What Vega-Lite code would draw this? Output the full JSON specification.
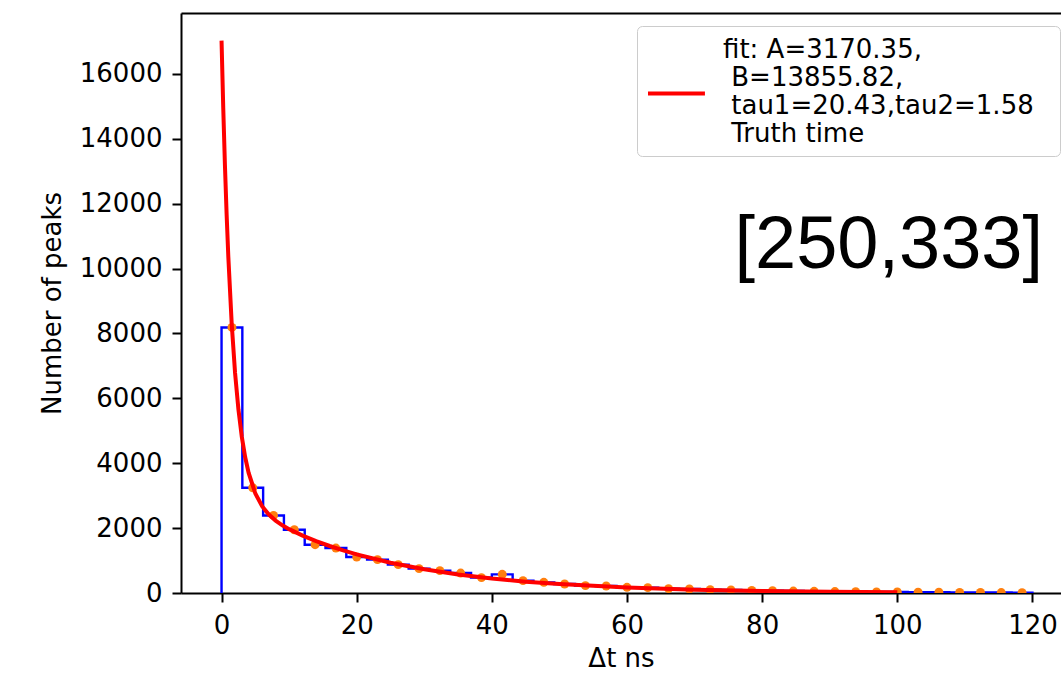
{
  "$schema": "https://vega.github.io/schema/vega-lite/v6.json",
  "width": 880,
  "height": 580,
  "autosize": "none",
  "padding": {"left": 181, "top": 13, "right": 0, "bottom": 82},
  "background": "white",
  "config": {
    "view": {"stroke": null},
    "font": "DejaVu Sans",
    "axis": {
      "labelFont": "DejaVu Sans",
      "labelFontSize": 26,
      "labelColor": "black",
      "tickColor": "black",
      "tickWidth": 2,
      "tickSize": 9,
      "domainColor": "black",
      "domainWidth": 2,
      "titleFont": "DejaVu Sans",
      "titleFontSize": 26,
      "titleFontWeight": "normal",
      "titleColor": "black",
      "grid": false,
      "labelPadding": 10
    }
  },
  "datasets": {
    "step": [
      {"t": 0, "n": 0},
      {"t": 0, "n": 8185},
      {"t": 3.077, "n": 3243},
      {"t": 6.154, "n": 2391},
      {"t": 9.231, "n": 1950},
      {"t": 12.308, "n": 1489},
      {"t": 15.385, "n": 1385},
      {"t": 18.462, "n": 1108},
      {"t": 21.538, "n": 1028},
      {"t": 24.615, "n": 874},
      {"t": 27.692, "n": 751},
      {"t": 30.769, "n": 689},
      {"t": 33.846, "n": 615},
      {"t": 36.923, "n": 474},
      {"t": 40.0, "n": 575},
      {"t": 43.077, "n": 381},
      {"t": 46.154, "n": 329},
      {"t": 49.231, "n": 277},
      {"t": 52.308, "n": 228},
      {"t": 55.385, "n": 215},
      {"t": 58.462, "n": 175},
      {"t": 61.538, "n": 166},
      {"t": 64.615, "n": 135},
      {"t": 67.692, "n": 123},
      {"t": 70.769, "n": 100},
      {"t": 73.846, "n": 95},
      {"t": 76.923, "n": 78},
      {"t": 80.0, "n": 70},
      {"t": 83.077, "n": 60},
      {"t": 86.154, "n": 52},
      {"t": 89.231, "n": 45},
      {"t": 92.308, "n": 42},
      {"t": 95.385, "n": 35},
      {"t": 98.462, "n": 30},
      {"t": 101.538, "n": 25},
      {"t": 104.615, "n": 22},
      {"t": 107.692, "n": 18},
      {"t": 110.769, "n": 16},
      {"t": 113.846, "n": 14},
      {"t": 116.923, "n": 12},
      {"t": 120, "n": 0}
    ],
    "dots": [
      {"t": 1.538, "n": 8185},
      {"t": 4.615, "n": 3243},
      {"t": 7.692, "n": 2391},
      {"t": 10.769, "n": 1950},
      {"t": 13.846, "n": 1489},
      {"t": 16.923, "n": 1385},
      {"t": 20.0, "n": 1108},
      {"t": 23.077, "n": 1028},
      {"t": 26.154, "n": 874},
      {"t": 29.231, "n": 751},
      {"t": 32.308, "n": 689},
      {"t": 35.385, "n": 615},
      {"t": 38.462, "n": 474},
      {"t": 41.538, "n": 575},
      {"t": 44.615, "n": 381},
      {"t": 47.692, "n": 329},
      {"t": 50.769, "n": 277},
      {"t": 53.846, "n": 228},
      {"t": 56.923, "n": 215},
      {"t": 60.0, "n": 175},
      {"t": 63.077, "n": 166},
      {"t": 66.154, "n": 135},
      {"t": 69.231, "n": 123},
      {"t": 72.308, "n": 100},
      {"t": 75.385, "n": 95},
      {"t": 78.462, "n": 78},
      {"t": 81.538, "n": 70},
      {"t": 84.615, "n": 60},
      {"t": 87.692, "n": 52},
      {"t": 90.769, "n": 45},
      {"t": 93.846, "n": 42},
      {"t": 96.923, "n": 35},
      {"t": 100.0, "n": 30},
      {"t": 103.077, "n": 25},
      {"t": 106.154, "n": 22},
      {"t": 109.231, "n": 18},
      {"t": 112.308, "n": 16},
      {"t": 115.385, "n": 14},
      {"t": 118.462, "n": 12}
    ],
    "fit": [
      {"t": 0, "n": 17026},
      {"t": 0.25, "n": 14960},
      {"t": 0.5, "n": 13191},
      {"t": 0.75, "n": 11676},
      {"t": 1, "n": 10377},
      {"t": 1.5, "n": 8308},
      {"t": 2, "n": 6782},
      {"t": 2.5, "n": 5653},
      {"t": 3, "n": 4813},
      {"t": 3.5, "n": 4183},
      {"t": 4, "n": 3709},
      {"t": 5, "n": 3067},
      {"t": 6, "n": 2674},
      {"t": 7, "n": 2416},
      {"t": 8, "n": 2231},
      {"t": 9, "n": 2087},
      {"t": 10, "n": 1968},
      {"t": 12, "n": 1769},
      {"t": 14, "n": 1600},
      {"t": 16, "n": 1449},
      {"t": 18, "n": 1314},
      {"t": 20, "n": 1191},
      {"t": 25, "n": 933},
      {"t": 30, "n": 730},
      {"t": 35, "n": 572},
      {"t": 40, "n": 448},
      {"t": 45, "n": 350},
      {"t": 50, "n": 274},
      {"t": 60, "n": 168},
      {"t": 70, "n": 103},
      {"t": 80, "n": 63},
      {"t": 90, "n": 39},
      {"t": 100, "n": 24}
    ],
    "annot": [
      {"label": "[250,333]"}
    ]
  },
  "layer": [
    {
      "data": {"name": "step"},
      "mark": {"type": "line", "interpolate": "step-after", "color": "#0000ff", "strokeWidth": 2.4, "clip": true},
      "encoding": {
        "x": {
          "field": "t", "type": "quantitative",
          "scale": {"domain": [-6, 124.225], "nice": false, "zero": false},
          "axis": {"values": [0, 20, 40, 60, 80, 100, 120], "title": "Δt ns", "titlePadding": 7, "domain": true}
        },
        "y": {
          "field": "n", "type": "quantitative",
          "scale": {"domain": [0, 17877], "nice": false},
          "axis": {"values": [0, 2000, 4000, 6000, 8000, 10000, 12000, 14000, 16000], "format": "d", "title": "Number of peaks", "titlePadding": 14, "domain": true, "labelFlush": false}
        }
      }
    },
    {
      "data": {"name": "dots"},
      "mark": {"type": "point", "filled": true, "shape": "circle", "color": "#ff7f0e", "opacity": 1, "size": 80, "clip": true},
      "encoding": {
        "x": {"field": "t", "type": "quantitative", "axis": null},
        "y": {"field": "n", "type": "quantitative"}
      }
    },
    {
      "data": {"name": "fit"},
      "mark": {"type": "line", "strokeWidth": 4, "clip": true},
      "encoding": {
        "x": {"field": "t", "type": "quantitative", "axis": {"orient": "top", "labels": false, "ticks": false, "title": null, "domain": true}},
        "y": {"field": "n", "type": "quantitative"},
        "color": {
          "datum": "fit",
          "type": "nominal",
          "scale": {"range": ["#ff0000"]},
          "legend": {
            "orient": "none",
            "legendX": 456,
            "legendY": 13,
            "title": null,
            "padding": 9,
            "fillColor": "white",
            "strokeColor": "#cccccc",
            "cornerRadius": 5,
            "symbolType": "M-1,3.35L3.38,3.35",
            "symbolSize": 676,
            "symbolStrokeWidth": 4,
            "labelOffset": 47,
            "labelFont": "DejaVu Sans",
            "labelFontSize": 26,
            "labelColor": "black",
            "labelLimit": 800,
            "labelExpr": "['fit: A=3170.35,', '\\u200b\\u00a0B=13855.82,', '\\u200b\\u00a0tau1=20.43,tau2=1.58\\u00a0\\u00a0\\u200b', '\\u200b\\u00a0Truth time']"
          }
        }
      }
    },
    {
      "data": {"name": "annot"},
      "mark": {"type": "text", "align": "left", "baseline": "middle", "font": "Liberation Sans", "fontSize": 74, "color": "black"},
      "encoding": {
        "x": {"datum": 75.9, "type": "quantitative", "axis": null},
        "y": {"datum": 10700, "type": "quantitative"},
        "text": {"field": "label", "type": "nominal"}
      }
    }
  ],
  "resolve": {"axis": {"x": "independent"}}
}
